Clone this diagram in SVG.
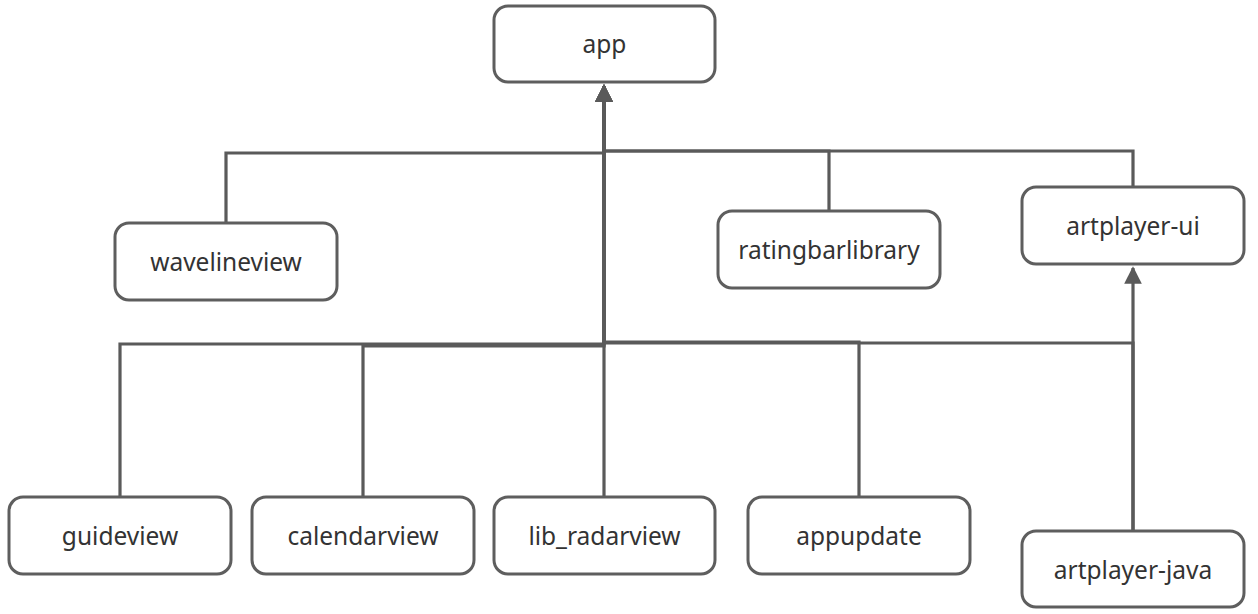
<svg xmlns="http://www.w3.org/2000/svg" width="1258" height="614" viewBox="0 0 1258 614">
<style>
.node rect{fill:#fff;stroke:#5e5e5e;stroke-width:3}
.node text{font-family:"Noto Sans","Open Sans",sans-serif;font-size:24.5px;fill:#333;text-anchor:middle;dominant-baseline:central}
.conn{fill:none;stroke:#5a5a5a;stroke-width:3.2}
</style>
<defs>
<marker id="arr" viewBox="0 0 10 10" refX="9" refY="5" markerWidth="6.5" markerHeight="5.5" orient="auto" markerUnits="strokeWidth">
<path d="M0,0 L10,5 L0,10 z" fill="#5a5a5a"/>
</marker>
</defs>
<rect width="1258" height="614" fill="#fff"/>
<g id="connectors">
<polyline class="conn" points="226,222 226,153 604,153 604,86" marker-end="url(#arr)"/>
<polyline class="conn" points="829,211 829,151 604,151 604,86" marker-end="url(#arr)"/>
<polyline class="conn" points="1133,187 1133,151 604,151 604,86" marker-end="url(#arr)"/>
<polyline class="conn" points="120,496 120,344 604,344 604,86" marker-end="url(#arr)"/>
<polyline class="conn" points="363,496 363,346 604,346 604,86" marker-end="url(#arr)"/>
<polyline class="conn" points="604,496 604,86" marker-end="url(#arr)"/>
<polyline class="conn" points="859,496 859,342 604,342 604,86" marker-end="url(#arr)"/>
<polyline class="conn" points="1133,530 1133,343 604,343 604,86" marker-end="url(#arr)"/>
<polyline class="conn" points="1133,530 1133,268" marker-end="url(#arr)"/>
</g>
<g id="app" class="node"><rect x="494" y="6" width="221" height="76" rx="14"/><text x="604.5" y="43">app</text></g>
<g id="wavelineview" class="node"><rect x="115" y="223" width="222" height="77" rx="14"/><text x="226" y="261">wavelineview</text></g>
<g id="ratingbarlibrary" class="node"><rect x="718" y="211" width="222" height="77" rx="14"/><text x="829" y="249">ratingbarlibrary</text></g>
<g id="artplayer-ui" class="node"><rect x="1022" y="187" width="222" height="77" rx="14"/><text x="1133" y="225">artplayer-ui</text></g>
<g id="guideview" class="node"><rect x="9" y="497" width="222" height="77" rx="14"/><text x="120" y="535">guideview</text></g>
<g id="calendarview" class="node"><rect x="252" y="497" width="222" height="77" rx="14"/><text x="363" y="535">calendarview</text></g>
<g id="lib_radarview" class="node"><rect x="494" y="497" width="221" height="77" rx="14"/><text x="604.5" y="535">lib_radarview</text></g>
<g id="appupdate" class="node"><rect x="748" y="497" width="222" height="77" rx="14"/><text x="859" y="535">appupdate</text></g>
<g id="artplayer-java" class="node"><rect x="1022" y="531" width="222" height="76" rx="14"/><text x="1133" y="569">artplayer-java</text></g>
</svg>
